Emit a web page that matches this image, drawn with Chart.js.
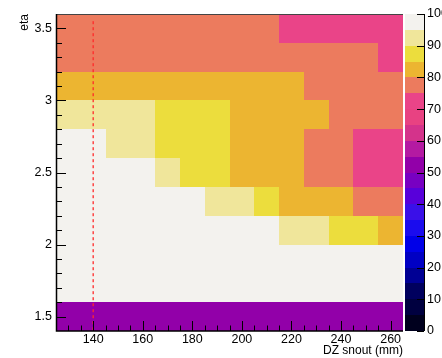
<!DOCTYPE html>
<html>
<head>
<meta charset="utf-8">
<script src="https://cdn.jsdelivr.net/npm/chart.js@4/dist/chart.umd.min.js"></script>
<style>
  html, body { margin: 0; padding: 0; background: #ffffff; }
  #chart { display: block; }
</style>
</head>
<body>
<canvas id="chart" width="442" height="358"></canvas>
<script>
// bin centres (DZ snout in mm, eta) and bin sizes
const dzSnout = [130, 140, 150, 160, 170, 180, 190, 200, 210, 220, 230, 240, 250, 260];
const etaBins = [1.5, 1.7, 1.9, 2.1, 2.3, 2.5, 2.7, 2.9, 3.1, 3.3, 3.5];
const dzWidth = 10;
const etaWidth = 0.2;

// efficiency (%) per eta row, bottom row first, one value per dz bin
const eff_1_5 = [52, 52, 52, 52, 52, 52, 52, 52, 52, 52, 52, 52, 52, 52];
const eff_1_7 = [98, 98, 98, 98, 98, 98, 98, 98, 98, 98, 98, 98, 98, 98];
const eff_1_9 = [98, 98, 98, 98, 98, 98, 98, 98, 98, 98, 98, 98, 98, 98];
const eff_2_1 = [98, 98, 98, 98, 98, 98, 98, 98, 98, 92, 92, 87, 87, 82];
const eff_2_3 = [98, 98, 98, 98, 98, 98, 92, 92, 87, 82, 82, 82, 77, 77];
const eff_2_5 = [98, 98, 98, 98, 92, 87, 87, 82, 82, 82, 77, 77, 72, 72];
const eff_2_7 = [98, 98, 92, 92, 87, 87, 87, 82, 82, 82, 77, 77, 72, 72];
const eff_2_9 = [92, 92, 92, 92, 87, 87, 87, 82, 82, 82, 82, 77, 77, 77];
const eff_3_1 = [82, 82, 82, 82, 82, 82, 82, 82, 82, 82, 77, 77, 77, 77];
const eff_3_3 = [77, 77, 77, 77, 77, 77, 77, 77, 77, 77, 77, 77, 77, 72];
const eff_3_5 = [77, 77, 77, 77, 77, 77, 77, 77, 77, 72, 72, 72, 72, 72];
const effRows = [eff_1_5, eff_1_7, eff_1_9, eff_2_1, eff_2_3, eff_2_5,
                 eff_2_7, eff_2_9, eff_3_1, eff_3_3, eff_3_5];

// dz cut marker
const cutDz = 140;
const cutEta = [3.55, 1.4];

// axis ranges and ticks
const dzRange = [125, 265];
const etaRange = [1.4, 3.6];
const dzTicks = [140, 160, 180, 200, 220, 240, 260];
const etaTicks = [1.5, 2, 2.5, 3, 3.5];
const zTicks = [0, 10, 20, 30, 40, 50, 60, 70, 80, 90, 100];

// 20 contour colours, 0-5 ... 95-100
const palette = [
  '#00001e', '#000040', '#00005e', '#000094', '#0000c4',
  '#0000e8', '#1a0cee', '#3a10e8', '#5800da', '#7800c2',
  '#9200a9', '#b41aa2', '#d4338b', '#e84282', '#ea4488',
  '#ec7b5e', '#ecb531', '#ecdd3d', '#f0e69b', '#f3f2ee'
];
const colorFor = v => palette[Math.max(0, Math.min(19, Math.floor(v / 5)))];

const FONT = 'Liberation Sans, Arial, Helvetica, sans-serif';

const heatmap = {
  id: 'heatmap',
  beforeDatasetsDraw(chart) {
    const { ctx } = chart;
    const xs = chart.scales.x, ys = chart.scales.y;
    ctx.save();
    effRows.forEach((row, i) => {
      const eta = etaBins[i];
      const y0 = Math.round(ys.getPixelForValue(eta + etaWidth / 2));
      const y1 = Math.round(ys.getPixelForValue(eta - etaWidth / 2));
      row.forEach((v, j) => {
        const dz = dzSnout[j];
        const x0 = Math.round(xs.getPixelForValue(dz - dzWidth / 2));
        const x1 = Math.round(xs.getPixelForValue(dz + dzWidth / 2));
        ctx.fillStyle = colorFor(v);
        ctx.fillRect(x0, y0, x1 - x0, y1 - y0);
      });
    });
    ctx.restore();
  },
  afterDatasetsDraw(chart) {
    const { ctx, chartArea: a } = chart;
    const xs = chart.scales.x, ys = chart.scales.y, zs = chart.scales.z;
    ctx.save();

    // frame: top line, then the two axes
    ctx.strokeStyle = '#444';
    ctx.lineWidth = 1;
    ctx.beginPath();
    ctx.moveTo(a.left, a.top + 0.5);
    ctx.lineTo(a.right, a.top + 0.5);
    ctx.stroke();

    ctx.strokeStyle = '#000';
    ctx.lineWidth = 1.5;
    ctx.beginPath();
    ctx.moveTo(a.left + 0.5, a.top);
    ctx.lineTo(a.left + 0.5, a.bottom);
    ctx.lineTo(a.right, a.bottom);
    ctx.stroke();

    // inward ticks, minor every 5 mm / 0.1 in eta
    ctx.lineWidth = 1;
    ctx.beginPath();
    for (let v = dzRange[0] + 5; v < dzRange[1]; v += 5) {
      const px = Math.round(xs.getPixelForValue(v)) + 0.5;
      const len = dzTicks.includes(v) ? 10 : 5.5;
      ctx.moveTo(px, a.bottom);
      ctx.lineTo(px, a.bottom - len);
    }
    for (let k = 15; k <= 35; k++) {
      const v = k / 10;
      const py = Math.round(ys.getPixelForValue(v)) + 0.5;
      const len = k % 5 === 0 ? 10 : 6;
      ctx.moveTo(a.left, py);
      ctx.lineTo(a.left + len, py);
    }
    ctx.stroke();

    // colour scale
    const cbL = a.right + 2, cbR = a.right + 21;
    for (let k = 0; k < 20; k++) {
      const yt = Math.round(zs.getPixelForValue((k + 1) * 5));
      const yb = Math.round(zs.getPixelForValue(k * 5));
      ctx.fillStyle = palette[k];
      ctx.fillRect(cbL, yt, cbR - cbL, yb - yt);
    }
    ctx.strokeStyle = '#000';
    ctx.beginPath();
    ctx.moveTo(cbR + 0.5, a.top);
    ctx.lineTo(cbR + 0.5, a.bottom);
    zTicks.forEach(v => {
      const py = Math.round(zs.getPixelForValue(v)) + 0.5;
      ctx.moveTo(cbR, py);
      ctx.lineTo(cbR - 7, py);
    });
    ctx.stroke();
    ctx.fillStyle = '#000';
    ctx.font = '12.5px ' + FONT;
    ctx.textAlign = 'left';
    ctx.textBaseline = 'middle';
    zTicks.forEach(v => {
      ctx.fillText(String(v), cbR + 3, zs.getPixelForValue(v));
    });
    ctx.restore();
  }
};

const ctx = document.getElementById('chart').getContext('2d');
new Chart(ctx, {
  type: 'line',
  data: {
    datasets: [{
      data: cutEta.map(y => ({ x: cutDz, y })),
      borderColor: '#ff2a2a',
      borderWidth: 1.3,
      borderDash: [3, 3],
      pointRadius: 0,
      fill: false
    }]
  },
  options: {
    responsive: false,
    animation: false,
    layout: { padding: { top: 14, right: 39, left: 0, bottom: 0 } },
    plugins: { legend: { display: false }, tooltip: { enabled: false } },
    scales: {
      x: {
        type: 'linear',
        min: dzRange[0],
        max: dzRange[1],
        afterBuildTicks: s => { s.ticks = dzTicks.map(v => ({ value: v })); },
        afterFit: s => { s.height = 27; },
        grid: { display: false, drawTicks: false },
        border: { display: false },
        ticks: {
          padding: 1,
          maxRotation: 0,
          autoSkip: false,
          color: '#000',
          font: { family: FONT, size: 12.5 },
          callback: v => String(v)
        },
        title: {
          display: true,
          text: 'DZ snout (mm)',
          align: 'end',
          color: '#000',
          font: { family: FONT, size: 12 },
          padding: { top: 0, bottom: 0 }
        }
      },
      y: {
        type: 'linear',
        min: etaRange[0],
        max: etaRange[1],
        afterBuildTicks: s => { s.ticks = etaTicks.map(v => ({ value: v })); },
        afterFit: s => { s.width = 56; },
        grid: { display: false, drawTicks: false },
        border: { display: false },
        ticks: {
          padding: 4,
          autoSkip: false,
          color: '#000',
          font: { family: FONT, size: 12.5 },
          callback: v => String(v)
        },
        title: {
          display: true,
          text: 'eta',
          align: 'end',
          color: '#000',
          font: { family: FONT, size: 12 },
          padding: { top: 17, bottom: 0 }
        }
      },
      z: {
        type: 'linear',
        display: false,
        position: 'right',
        min: 0,
        max: 100
      }
    }
  },
  plugins: [heatmap]
});
</script>
</body>
</html>
